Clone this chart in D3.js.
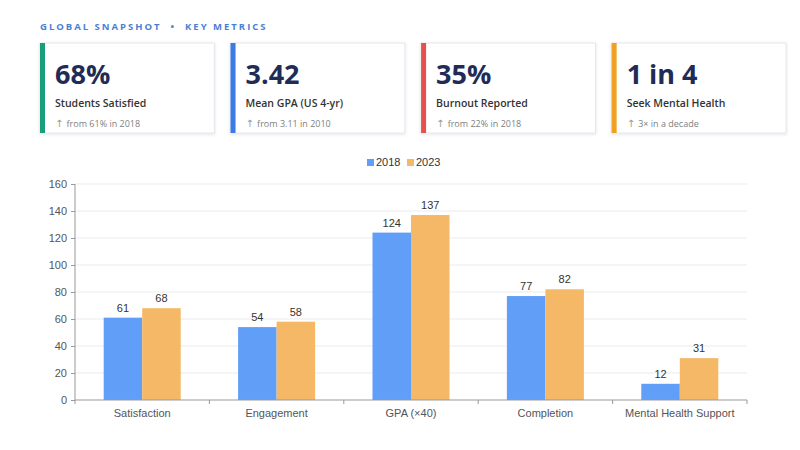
<!DOCTYPE html>
<html>
<head>
<meta charset="utf-8">
<script src="https://cdn.jsdelivr.net/npm/d3@7"></script>
<style>
    html, body { margin: 0; padding: 0; background: #fff; }
    svg { display: block; }
    .card-value { font-family: "Open Sans", sans-serif; font-weight: 700; fill: #1f2c56; }
    .card-label { font-family: "Open Sans", sans-serif; font-weight: 600; fill: #333; }
    .card-note { font-family: "Open Sans", sans-serif; fill: #808080; }
    .card-note .arrow { font-family: "DejaVu Sans", sans-serif; font-size: 10px; fill: #999; }
    .axis text { font-family: "Liberation Sans", Arial, sans-serif; font-size: 11px; fill: #555; }
    .axis path, .axis line { stroke: #999; }
</style>
</head>
<body>
<svg id="chart" width="800" height="450"></svg>
<script>
    'use strict';

    // KPI cards
    var cardValues = ['68%', '3.42', '35%', '1 in 4'];
    var cardLabels = ['Students Satisfied', 'Mean GPA (US 4-yr)', 'Burnout Reported', 'Seek Mental Health'];
    var cardNotes = ['from 61% in 2018', 'from 3.11 in 2010', 'from 22% in 2018', '3\u00d7 in a decade'];

    // bar chart
    var categories = ['Satisfaction', 'Engagement', 'GPA (\u00d740)', 'Completion', 'Mental Health Support'];
    var seriesNames = ['2018', '2023'];
    var values2018 = [61, 54, 124, 77, 12];
    var values2023 = [68, 58, 137, 82, 31];
    var yTicks = [0, 20, 40, 60, 80, 100, 120, 140, 160];

    var cardColors = ['#1a9e7a', '#3a7be6', '#e5514b', '#f0a122'];
    var seriesColors = ['#619ef8', '#f4b866'];

    var svg = d3.select('#chart');

    // shadow for the cards
    var filter = svg.append('defs').append('filter')
        .attr('id', 'shadow')
        .attr('x', '-10%').attr('y', '-10%')
        .attr('width', '120%').attr('height', '130%');
    filter.append('feDropShadow')
        .attr('dx', 0).attr('dy', 1)
        .attr('stdDeviation', 1.5)
        .attr('flood-color', '#1f2c56')
        .attr('flood-opacity', 0.12);

    svg.append('text')
        .attr('x', 40)
        .attr('y', 30)
        .style('font-family', '"Open Sans", sans-serif')
        .style('font-size', '9.5px')
        .style('font-weight', 700)
        .style('letter-spacing', '2px')
        .style('white-space', 'pre')
        .style('fill', '#4a7fd4')
        .text('GLOBAL SNAPSHOT  \u2022  KEY METRICS');

    var cardX = d3.scaleBand()
        .domain(d3.range(cardValues.length))
        .range([40, 786])
        .paddingInner(0.085);

    var cards = svg.selectAll('g.card')
        .data(cardValues)
        .enter().append('g')
        .attr('class', 'card')
        .attr('transform', function (d, i) { return 'translate(' + cardX(i) + ',43)'; });

    cards.append('rect')
        .attr('width', cardX.bandwidth())
        .attr('height', 90)
        .attr('fill', '#fff')
        .attr('stroke', '#e6e6ee')
        .attr('filter', 'url(#shadow)');

    cards.append('rect')
        .attr('width', 5)
        .attr('height', 90)
        .attr('fill', function (d, i) { return cardColors[i]; });

    cards.append('text')
        .attr('class', 'card-value')
        .attr('x', 15)
        .attr('y', 41)
        .style('font-size', '27px')
        .text(function (d) { return d; });

    cards.append('text')
        .attr('class', 'card-label')
        .attr('x', 15)
        .attr('y', 64)
        .style('font-size', '10.5px')
        .text(function (d, i) { return cardLabels[i]; });

    var notes = cards.append('text')
        .attr('class', 'card-note')
        .attr('x', 15)
        .attr('y', 84)
        .style('font-size', '9px');
    notes.append('tspan')
        .attr('class', 'arrow')
        .text('\u2191 ');
    notes.append('tspan')
        .text(function (d, i) { return cardNotes[i]; });

    // chart area
    var margin = {left: 75, right: 53, top: 184, bottom: 50};
    var width = 800 - margin.left - margin.right;
    var height = 450 - margin.top - margin.bottom;

    var x = d3.scaleBand()
        .domain(categories)
        .range([0, width]);

    var xInner = d3.scaleBand()
        .domain(seriesNames)
        .range([0, x.bandwidth()])
        .paddingOuter(0.745);

    var y = d3.scaleLinear()
        .domain([0, 160])
        .range([height, 0]);

    var g = svg.append('g')
        .attr('transform', 'translate(' + margin.left + ',' + margin.top + ')');

    g.append('g')
        .selectAll('line')
        .data(yTicks.slice(1))
        .enter().append('line')
        .attr('x1', 0)
        .attr('x2', width)
        .attr('y1', function (d) { return y(d); })
        .attr('y2', function (d) { return y(d); })
        .attr('stroke', '#ebebf0');

    var rows = categories.map(function (c, i) {
        return [
            {cat: c, series: seriesNames[0], value: values2018[i]},
            {cat: c, series: seriesNames[1], value: values2023[i]}
        ];
    });

    var groups = g.selectAll('g.group')
        .data(rows)
        .enter().append('g')
        .attr('class', 'group')
        .attr('transform', function (d, i) { return 'translate(' + x(categories[i]) + ',0)'; });

    groups.selectAll('rect')
        .data(function (d) { return d; })
        .enter().append('rect')
        .attr('x', function (d) { return xInner(d.series); })
        .attr('width', xInner.bandwidth())
        .attr('y', function (d) { return y(d.value); })
        .attr('height', function (d) { return height - y(d.value); })
        .attr('fill', function (d, i) { return seriesColors[i]; });

    groups.selectAll('text')
        .data(function (d) { return d; })
        .enter().append('text')
        .attr('x', function (d) { return xInner(d.series) + xInner.bandwidth() / 2; })
        .attr('y', function (d) { return y(d.value) - 6; })
        .attr('text-anchor', 'middle')
        .style('font-family', '"Liberation Sans", Arial, sans-serif')
        .style('font-size', '11px')
        .style('fill', '#333')
        .text(function (d) { return d.value; });

    // x axis with ticks at band edges
    var xAxis = g.append('g')
        .attr('class', 'axis')
        .attr('transform', 'translate(0,' + height + ')');
    xAxis.append('line')
        .attr('x1', 0).attr('x2', width);
    xAxis.selectAll('line.tick')
        .data(categories.concat([null]))
        .enter().append('line')
        .attr('class', 'tick')
        .attr('x1', function (d, i) { return i * x.step(); })
        .attr('x2', function (d, i) { return i * x.step(); })
        .attr('y1', 0)
        .attr('y2', 4);
    xAxis.selectAll('text')
        .data(categories)
        .enter().append('text')
        .attr('x', function (d) { return x(d) + x.bandwidth() / 2; })
        .attr('y', 17)
        .attr('text-anchor', 'middle')
        .text(function (d) { return d; });

    var yAxis = g.append('g')
        .attr('class', 'axis')
        .call(d3.axisLeft(y).tickValues(yTicks).tickSize(4).tickPadding(4));
    yAxis.select('.domain').attr('d', 'M0,' + height + 'V0');

    // legend
    var legend = svg.append('g')
        .attr('transform', 'translate(367,159)');
    var legendItems = legend.selectAll('g')
        .data(seriesNames)
        .enter().append('g')
        .attr('transform', function (d, i) { return 'translate(' + (i * 40) + ',0)'; });
    legendItems.append('rect')
        .attr('width', 7)
        .attr('height', 7)
        .attr('fill', function (d, i) { return seriesColors[i]; });
    legendItems.append('text')
        .attr('x', 9)
        .attr('y', 7)
        .style('font-family', '"Liberation Sans", Arial, sans-serif')
        .style('font-size', '11px')
        .style('fill', '#333')
        .text(function (d) { return d; });
</script>
</body>
</html>
